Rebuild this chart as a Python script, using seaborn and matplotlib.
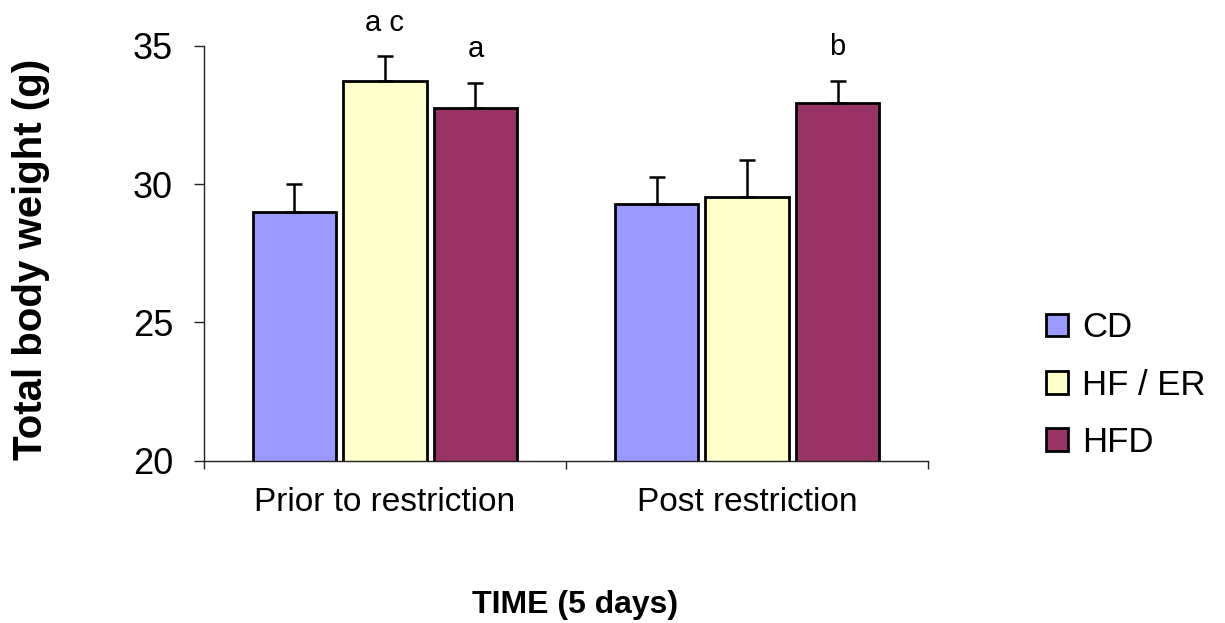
import numpy as np
import pandas as pd
import matplotlib
matplotlib.use("Agg")
import matplotlib.pyplot as plt
import seaborn as sns
from matplotlib.patches import Patch

# ---- data ----
periods = ["Prior to restriction", "Post restriction"]
groups = ["CD", "HF / ER", "HFD"]
cd_mean = [29.0, 29.27]
hfer_mean = [33.72, 29.53]
hfd_mean = [32.73, 32.93]
cd_err = [1.0, 1.0]
hfer_err = [0.89, 1.35]
hfd_err = [0.92, 0.80]
cd_letters = ["", ""]
hfer_letters = ["a c", ""]
hfd_letters = ["a", "b"]
colors = ["#9999FF", "#FFFFCC", "#993366"]

means = {"CD": cd_mean, "HF / ER": hfer_mean, "HFD": hfd_mean}
errs = {"CD": cd_err, "HF / ER": hfer_err, "HFD": hfd_err}
letters = {"CD": cd_letters, "HF / ER": hfer_letters, "HFD": hfd_letters}

rows = []
for g in groups:
    for p, m in zip(periods, means[g]):
        rows.append({"period": p, "group": g, "weight": m})
df = pd.DataFrame(rows)

sns.set_style("ticks")
plt.rcParams["font.family"] = ["Liberation Sans", "DejaVu Sans"]
plt.rcParams["text.color"] = "black"
plt.rcParams["axes.labelcolor"] = "black"
plt.rcParams["xtick.color"] = "black"
plt.rcParams["ytick.color"] = "black"

fig = plt.figure(figsize=(12.25, 6.23), dpi=100)
ax = fig.add_axes([0.1665, 0.2605, 0.5911, 0.6662])

sns.barplot(data=df, x="period", y="weight", hue="group", order=periods,
            hue_order=groups, palette=colors, saturation=1, width=0.75, gap=0.08,
            edgecolor="black", linewidth=2, errorbar=None, legend=False, ax=ax)

for g, cont in zip(groups, ax.containers):
    xs = [b.get_x() + b.get_width() / 2 for b in cont]
    ys = np.array(means[g])
    e = np.array(errs[g])
    ax.errorbar(xs, ys, yerr=[np.zeros_like(e), e], fmt="none", ecolor="black",
                elinewidth=1.8, capsize=6, capthick=1.8, zorder=3)
    for x, y, ee, lab in zip(xs, ys, e, letters[g]):
        if lab:
            ax.text(x, y + ee + 0.93, lab, ha="center", va="baseline",
                    fontsize=21, color="black", clip_on=False)

ax.set_ylim(20, 35)
ax.set_yticks([20, 25, 30, 35])
ax.set_xlim(-0.5, 1.5)
ax.set_xticks([-0.5, 0.5, 1.5])
ax.set_xticklabels(["", "", ""])
ax.set_xticks([0, 1], minor=True)
ax.set_xticklabels(periods, minor=True)
ax.tick_params(axis="x", which="major", direction="out", length=6, width=1, color="#222222")
ax.tick_params(axis="x", which="minor", length=0, pad=19, labelsize=24, labelcolor="black")
ax.tick_params(axis="y", direction="out", length=7.2, width=1, color="#222222",
               pad=15, labelsize=26, labelcolor="black")

for s in ["top", "right"]:
    ax.spines[s].set_visible(False)
for s in ["left", "bottom"]:
    ax.spines[s].set_linewidth(1)
    ax.spines[s].set_color("#222222")

ax.set_ylabel("Total body weight (g)", fontsize=29, fontweight="bold", color="black")
ax.yaxis.set_label_coords(-0.2127, 0.4855)
ax.set_xlabel("TIME (5 days)", fontsize=23, fontweight="bold", color="black")
ax.xaxis.set_label_coords(0.512, -0.312)

handles = [Patch(facecolor=c, edgecolor="black", linewidth=2) for c in colors]
fig.legend(handles, groups, loc="center left", bbox_to_anchor=(0.854, 0.382),
           frameon=False, fontsize=25, handlelength=0.63, handleheight=0.63,
           handletextpad=0.4, labelspacing=0.7, borderpad=0, borderaxespad=0,
           labelcolor="black")

fig.savefig("out.png", dpi=100)
